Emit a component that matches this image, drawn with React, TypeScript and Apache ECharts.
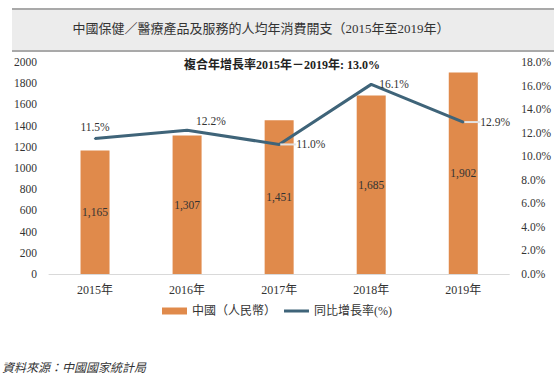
import React, { useEffect, useRef } from "react";
import * as echarts from "echarts";

const years = ["2015年", "2016年", "2017年", "2018年", "2019年"];
const spending = [1165, 1307, 1451, 1685, 1902];
const growth = [11.5, 12.2, 11.0, 16.1, 12.9];
const barName = "中國（人民幣）";
const lineName = "同比增長率(%)";
const titleText = "中國保健／醫療產品及服務的人均年消費開支（2015年至2019年）";
const cagrText = "複合年增長率2015年－2019年: 13.0%";
const sourceText = "資料來源：中國國家統計局";

const FONT = "'Liberation Serif', 'Noto Sans CJK TC', serif";
const ORANGE = "#e08a4b";
const TEAL = "#3f6479";

export default function App() {
  const ref = useRef<HTMLDivElement>(null);
  useEffect(() => {
    if (!ref.current) return;
    const chart = echarts.init(ref.current, null, { renderer: "svg" });
    const lineLabels = [
      { position: "top", distance: 5 },
      { position: "right", distance: 8 },
      { position: "right", distance: 3 },
      { position: "right", distance: 7 },
      { position: "right", distance: 3 },
    ];
    const leader = [false, false, true, false, true];
    chart.setOption({
      animation: false,
      textStyle: { fontFamily: FONT },
      graphic: [
        {
          type: "rect",
          shape: { x: 12, y: 9, width: 542, height: 42 },
          style: { fill: "#ececec" },
          silent: true,
        },
        {
          type: "line",
          shape: { x1: 12, y1: 9, x2: 554, y2: 9 },
          style: { stroke: "#a9a9a9", lineWidth: 2 },
        },
        {
          type: "line",
          shape: { x1: 12, y1: 51, x2: 554, y2: 51 },
          style: { stroke: "#a9a9a9", lineWidth: 2 },
        },
        {
          type: "text",
          x: 261,
          y: 28,
          style: {
            text: titleText,
            font: `13px ${FONT}`,
            fill: "#333",
            align: "center",
            verticalAlign: "middle",
          },
        },
        {
          type: "text",
          x: 282,
          y: 65,
          style: {
            text: cagrText,
            font: `bold 12px ${FONT}`,
            fill: "#222",
            align: "center",
            verticalAlign: "middle",
          },
        },
        {
          type: "text",
          x: 2,
          y: 368,
          style: {
            text: sourceText,
            font: `italic 12px ${FONT}`,
            fill: "#333",
            align: "left",
            verticalAlign: "middle",
          },
        },
      ],
      grid: { left: 49, right: 43, top: 62, bottom: 106 },
      legend: {
        bottom: 58,
        left: "center",
        itemWidth: 25,
        itemHeight: 7,
        itemGap: 8,
        textStyle: { fontFamily: FONT, fontSize: 12, color: "#333" },
        data: [
          { name: barName, icon: "rect" },
          {
            name: lineName,
            icon: "path://M0,0 L25,0 L25,0.01 Z M0,2 L25,2 L25,5 L0,5 Z M0,7 L25,7 L25,7.01 Z",
            itemStyle: { color: TEAL, borderWidth: 0 },
          },
        ],
      },
      xAxis: {
        type: "category",
        data: years,
        axisLine: { lineStyle: { color: "#d9d9d9" } },
        axisTick: { show: false },
        axisLabel: { color: "#333", fontSize: 12, margin: 10, fontFamily: FONT },
      },
      yAxis: [
        {
          type: "value",
          min: 0,
          max: 2000,
          interval: 200,
          splitLine: { show: false },
          axisLine: { show: false },
          axisTick: { show: false },
          axisLabel: {
            color: "#333",
            fontSize: 11.5,
            margin: 12,
            fontFamily: FONT,
            formatter: (v: number) => String(v),
          },
        },
        {
          type: "value",
          min: 0,
          max: 18,
          interval: 2,
          splitLine: { show: false },
          axisLine: { show: false },
          axisTick: { show: false },
          axisLabel: {
            color: "#333",
            fontSize: 11.5,
            margin: 12,
            fontFamily: FONT,
            formatter: (v: number) => v.toFixed(1) + "%",
          },
        },
      ],
      series: [
        {
          name: barName,
          type: "bar",
          data: spending,
          barWidth: 29,
          itemStyle: { color: ORANGE },
          label: {
            show: true,
            position: "inside",
            color: "#333",
            fontSize: 11.5,
            fontFamily: FONT,
            formatter: (p: any) => p.value.toLocaleString("en-US"),
          },
        },
        {
          name: lineName,
          type: "line",
          yAxisIndex: 1,
          data: growth.map((v, i) => ({
            value: v,
            label: lineLabels[i],
            labelLine: {
              show: leader[i],
              lineStyle: { color: "#e3e3e3", width: 2 },
            },
          })),
          labelLayout: (p: any) =>
            leader[p.dataIndex]
              ? { dx: 13 }
              : p.dataIndex === 1
              ? { dy: -9 }
              : {},
          symbol: "circle",
          symbolSize: 2,
          itemStyle: { color: TEAL },
          lineStyle: { color: TEAL, width: 3 },
          label: {
            show: true,
            color: "#333",
            fontSize: 11.5,
            fontFamily: FONT,
            formatter: (p: any) => p.value.toFixed(1) + "%",
          },
        },
      ],
    });
    return () => chart.dispose();
  }, []);
  return (
    <div
      ref={ref}
      style={{ position: "absolute", left: 0, top: 0, width: 554, height: 380 }}
    />
  );
}
